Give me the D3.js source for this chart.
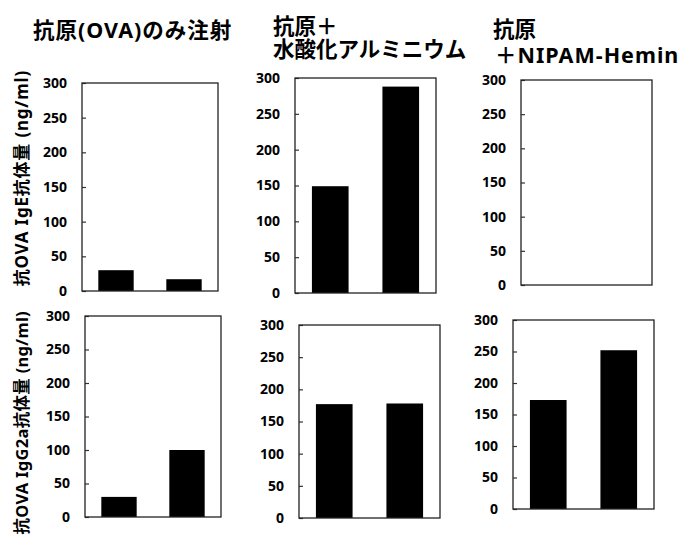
<!DOCTYPE html>
<html>
<head>
<meta charset="utf-8">
<script src="https://cdn.jsdelivr.net/npm/d3@7"></script>
<style>
  body { margin: 0; background: #fff; }
  text { font-family: "Noto Sans", "Noto Sans CJK JP", sans-serif; font-weight: bold; fill: #000; }
</style>
</head>
<body>
<div id="chart"></div>
<script>
// data
var groups = ["対照", "処置"];
var yTicks = [0, 50, 100, 150, 200, 250, 300];
var titles = [
  ["抗原(OVA)のみ注射"],
  ["抗原＋", "水酸化アルミニウム"],
  ["抗原", "＋NIPAM-Hemin"]
];
var rowLabels = ["抗OVA IgE抗体量 (ng/ml)", "抗OVA IgG2a抗体量 (ng/ml)"];
var igE   = [[30, 17], [149, 288], []];
var igG2a = [[30, 100], [177, 178], [173, 252]];

// panel boxes (layout only)
var boxes = [
  [{x: 82,  y: 83,  w: 136, h: 208}, {x: 295, y: 78,  w: 141, h: 215}, {x: 521, y: 80,  w: 131, h: 205}],
  [{x: 85,  y: 316, w: 136, h: 201}, {x: 299, y: 325, w: 141, h: 193}, {x: 513, y: 320, w: 141, h: 189}]
];

var svg = d3.select("#chart")
  .append("svg")
    .attr("width", 680)
    .attr("height", 551);

function drawPanel(box, values) {
  var g = svg.append("g")
    .attr("transform", "translate(" + box.x + "," + box.y + ")");

  var x = d3.scaleBand()
    .domain(groups)
    .range([0, box.w])
    .paddingInner(0.48)
    .paddingOuter(0.24);

  var y = d3.scaleLinear()
    .domain([0, 300])
    .range([box.h, 0]);

  var data = values.map(function(v, i) { return {name: groups[i], value: v}; });

  g.selectAll("rect.bar")
    .data(data)
    .enter()
    .append("rect")
      .attr("class", "bar")
      .attr("x", function(d) { return x(d.name); })
      .attr("y", function(d) { return y(d.value); })
      .attr("width", x.bandwidth())
      .attr("height", function(d) { return box.h - y(d.value); })
      .style("fill", "#000");

  // inner ticks
  var ax = g.append("g")
    .call(d3.axisRight(y).tickValues(yTicks).tickSize(4).tickFormat(""));
  ax.select(".domain").remove();
  ax.selectAll("line").attr("stroke", "#333").attr("stroke-width", 1.2);

  // tick labels
  g.selectAll("text.tl")
    .data(yTicks)
    .enter()
    .append("text")
      .attr("class", "tl")
      .attr("x", -15)
      .attr("y", function(d) { return y(d); })
      .attr("dy", "0.35em")
      .attr("text-anchor", "end")
      .style("font-size", "14px")
      .text(function(d) { return d; });

  g.append("rect")
    .attr("width", box.w)
    .attr("height", box.h)
    .attr("fill", "none")
    .attr("stroke", "#222")
    .attr("stroke-width", 1.3);
}

boxes[0].forEach(function(b, i) { drawPanel(b, igE[i]); });
boxes[1].forEach(function(b, i) { drawPanel(b, igG2a[i]); });

// column titles, one text element per title, lines as tspans
var titlePos = [
  {x: 33,  y: [38]},
  {x: 273, y: [34, 57]},
  {x: 493, y: [37, 63]}
];
titles.forEach(function(lines, i) {
  var t = svg.append("text")
    .style("font-size", "21.5px");
  lines.forEach(function(line, j) {
    t.append("tspan")
      .attr("x", titlePos[i].x + (/[A-Z]/.test(line) && j > 0 ? 2 : 0))
      .attr("y", titlePos[i].y[j])
      .style("letter-spacing", /[A-Z]/.test(line) ? "1px" : null)
      .text(line);
  });
});

// row labels
var rowPos = [
  {x: 21, y: 70,  size: "17px",   ls: "0.8px"},
  {x: 21, y: 311, size: "16.5px", ls: "0.3px"}
];
rowLabels.forEach(function(t, i) {
  svg.append("text")
    .attr("transform", "translate(" + rowPos[i].x + "," + rowPos[i].y + ") rotate(-90)")
    .attr("text-anchor", "end")
    .attr("dominant-baseline", "central")
    .style("font-size", rowPos[i].size)
    .style("letter-spacing", rowPos[i].ls)
    .text(t);
});
</script>
</body>
</html>
